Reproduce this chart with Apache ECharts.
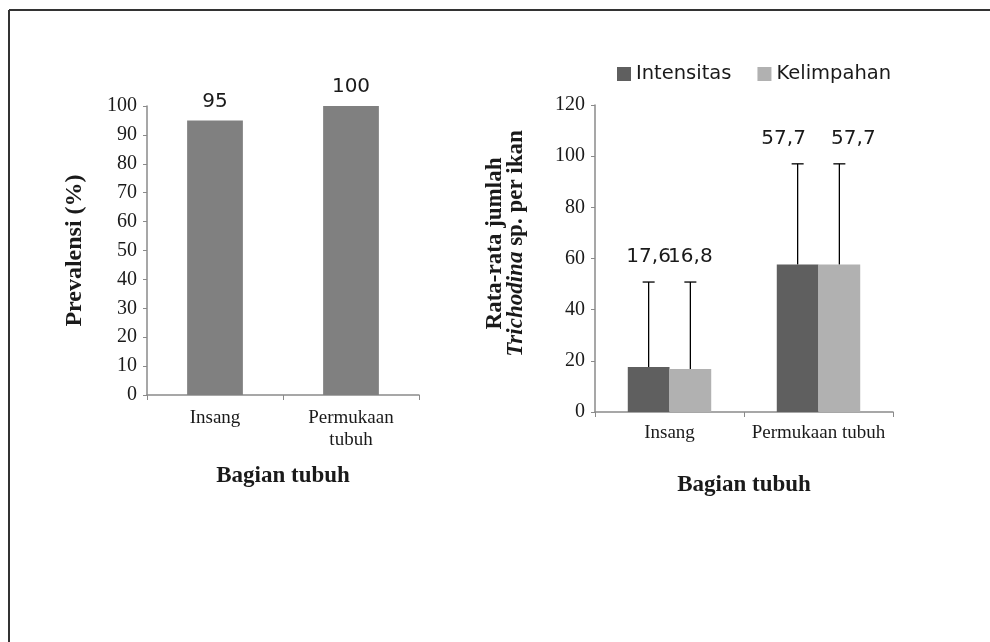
<!DOCTYPE html>
<html>
<head>
<meta charset="utf-8">
<script src="https://cdn.jsdelivr.net/npm/echarts@6/dist/echarts.min.js"></script>
<style>
html,body{margin:0;padding:0;background:#fff;}
#chart{width:990px;height:642px;}
</style>
</head>
<body>
<div id="chart"></div>
<script>
// ---- data ----
const leftCategories = ['Insang', 'Permukaan\ntubuh'];
const rightCategories = ['Insang', 'Permukaan tubuh'];
const prevalensi = [95, 100];
const intensitas = [17.6, 57.7];
const kelimpahan = [16.8, 57.7];
const intensitasSD = [33.2, 39.3];
const kelimpahanSD = [34.0, 39.3];
const seriesNames = ['Intensitas', 'Kelimpahan'];

const SERIF = 'Liberation Serif';
const SANS = 'DejaVu Sans';
const TXT = '#1a1a1a';
const AXIS = '#8a8a8a';

function fmt(v) { return String(v).replace('.', ','); }

function errRender(sign) {
  return function (params, api) {
    const cat = api.value(0), val = api.value(1), sd = api.value(2);
    const band = api.size([1, 0])[0];
    const base = api.coord([cat, val]);
    const x = base[0] + sign * band * 0.14;
    const top = api.coord([cat, val + sd])[1];
    // spread the two value labels apart slightly when they are at the same height
    const lx = cat === 1 ? x + sign * 14 : x;
    return {
      type: 'group',
      children: [
        { type: 'line', shape: { x1: x, y1: base[1], x2: x, y2: top }, style: { stroke: '#000', lineWidth: 1.3 } },
        { type: 'line', shape: { x1: x - 6, y1: top, x2: x + 6, y2: top }, style: { stroke: '#000', lineWidth: 1.3 } },
        { type: 'text', x: lx, y: top - 25, style: { text: fmt(val), align: 'center', verticalAlign: 'middle', fontSize: 20, fontFamily: SANS, fill: TXT } }
      ]
    };
  };
}

const chart = echarts.init(document.getElementById('chart'));
chart.setOption({
  animation: false,
  backgroundColor: '#fff',
  graphic: [
    { type: 'line', shape: { x1: 9, y1: 10, x2: 990, y2: 10 }, style: { stroke: '#333', lineWidth: 2 } },
    { type: 'line', shape: { x1: 9, y1: 10, x2: 9, y2: 642 }, style: { stroke: '#333', lineWidth: 2 } }
  ],
  legend: {
    data: seriesNames,
    left: 612, top: 59,
    icon: 'rect', itemWidth: 14, itemHeight: 14, itemGap: 26,
    textStyle: { fontFamily: SANS, fontSize: 19.5, color: TXT }
  },
  grid: [
    { left: 147, right: 571, top: 106, bottom: 247 },
    { left: 595, right: 97, top: 105, bottom: 230 }
  ],
  xAxis: [
    {
      gridIndex: 0, type: 'category', data: leftCategories,
      axisLine: { lineStyle: { color: AXIS, width: 1.5 } },
      axisTick: { show: true, length: 5, lineStyle: { color: AXIS } },
      axisLabel: { interval: 0, fontFamily: SERIF, fontSize: 19, color: TXT, margin: 12, lineHeight: 22 },
      name: 'Bagian tubuh', nameLocation: 'middle', nameGap: 70,
      nameTextStyle: { fontFamily: SERIF, fontWeight: 'bold', fontSize: 23, color: TXT, verticalAlign: 'top' }
    },
    {
      gridIndex: 1, type: 'category', data: rightCategories,
      axisLine: { lineStyle: { color: AXIS, width: 1.5 } },
      axisTick: { show: true, length: 5, lineStyle: { color: AXIS } },
      axisLabel: { interval: 0, fontFamily: SERIF, fontSize: 19, color: TXT, margin: 12 },
      name: 'Bagian tubuh', nameLocation: 'middle', nameGap: 62,
      nameTextStyle: { fontFamily: SERIF, fontWeight: 'bold', fontSize: 23, color: TXT, verticalAlign: 'top' }
    }
  ],
  yAxis: [
    {
      gridIndex: 0, type: 'value', min: 0, max: 100, interval: 10,
      axisLine: { show: true, lineStyle: { color: AXIS, width: 1.5 } },
      axisTick: { show: true, length: 4, lineStyle: { color: AXIS } },
      splitLine: { show: false },
      axisLabel: { fontFamily: SERIF, fontSize: 20, color: TXT, margin: 10 },
      name: 'Prevalensi (%)', nameLocation: 'middle', nameGap: 60,
      nameTextStyle: { fontFamily: SERIF, fontWeight: 'bold', fontSize: 24, color: TXT }
    },
    {
      gridIndex: 1, type: 'value', min: 0, max: 120, interval: 20,
      axisLine: { show: true, lineStyle: { color: AXIS, width: 1.5 } },
      axisTick: { show: true, length: 4, lineStyle: { color: AXIS } },
      splitLine: { show: false },
      axisLabel: { fontFamily: SERIF, fontSize: 20, color: TXT, margin: 10 },
      name: '{b|Rata-rata jumlah}\n{bi|Trichodina}{b| sp. per ikan}',
      nameLocation: 'middle', nameGap: 68,
      nameTextStyle: {
        color: TXT, lineHeight: 21, padding: [0, 0, 0, 30],
        rich: {
          b: { fontFamily: SERIF, fontWeight: 'bold', fontSize: 23, color: TXT, lineHeight: 21 },
          bi: { fontFamily: SERIF, fontWeight: 'bold', fontStyle: 'italic', fontSize: 23, color: TXT, lineHeight: 21 }
        }
      }
    }
  ],
  series: [
    {
      type: 'bar', xAxisIndex: 0, yAxisIndex: 0, data: prevalensi,
      barWidth: '41%', itemStyle: { color: '#808080' },
      label: { show: true, position: 'top', distance: 9, fontFamily: SANS, fontSize: 20, color: TXT }
    },
    {
      name: seriesNames[0], type: 'bar', xAxisIndex: 1, yAxisIndex: 1, data: intensitas,
      barWidth: '28%', barGap: '0%', itemStyle: { color: '#5f5f5f' }
    },
    {
      name: seriesNames[1], type: 'bar', xAxisIndex: 1, yAxisIndex: 1, data: kelimpahan,
      barWidth: '28%', barGap: '0%', itemStyle: { color: '#b1b1b1' }
    },
    {
      type: 'custom', xAxisIndex: 1, yAxisIndex: 1, z: 5,
      renderItem: errRender(-1),
      data: intensitas.map((v, i) => [i, v, intensitasSD[i]])
    },
    {
      type: 'custom', xAxisIndex: 1, yAxisIndex: 1, z: 5,
      renderItem: errRender(1),
      data: kelimpahan.map((v, i) => [i, v, kelimpahanSD[i]])
    }
  ]
});
</script>
</body>
</html>
